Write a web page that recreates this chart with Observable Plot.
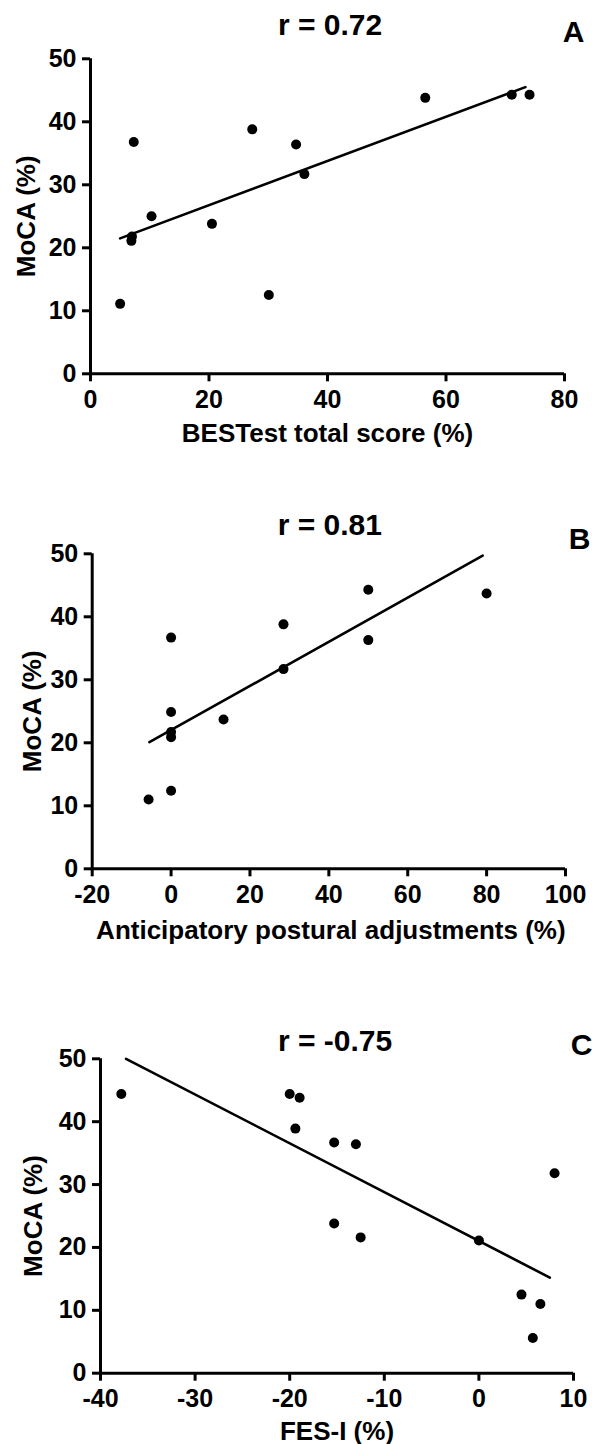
<!DOCTYPE html>
<html>
<head>
<meta charset="utf-8">
<script src="https://cdn.jsdelivr.net/npm/d3@7"></script>
<script src="https://cdn.jsdelivr.net/npm/@observablehq/plot@0.6"></script>
<style>
  html, body { margin: 0; padding: 0; background: #fff; }
  #root { position: relative; width: 592px; height: 1444px; background: #fff; }
  #root svg { position: absolute; left: 0; display: block; }
</style>
</head>
<body>
<div id="root"></div>
<script>
// ---- Data ----
const yTicks = [0, 10, 20, 30, 40, 50];

// Panel A
const titleA = "r = 0.72";
const letterA = "A";
const xLabelA = "BESTest total score (%)";
const xTicksA = [0, 20, 40, 60, 80];
const bestX = [5.0, 6.9, 7.0, 7.3, 10.3, 20.5, 27.3, 30.1, 34.7, 36.1, 56.5, 71.1, 74.1];
const mocaA = [11.1, 21.1, 21.8, 36.8, 25.0, 23.8, 38.8, 12.5, 36.4, 31.7, 43.8, 44.3, 44.3];
const fitAx = [5.0, 73.4];
const fitAy = [21.5, 45.5];

// Panel B
const titleB = "r = 0.81";
const letterB = "B";
const xLabelB = "Anticipatory postural adjustments (%)";
const xTicksB = [-20, 0, 20, 40, 60, 80, 100];
const apaX = [-5.7, 0, 0, 0, 0, 0, 13.3, 28.5, 28.5, 50, 50, 80];
const mocaB = [11.0, 12.4, 20.9, 21.7, 24.9, 36.7, 23.7, 31.7, 38.8, 44.3, 36.3, 43.7];
const fitBx = [-5.5, 79.0];
const fitBy = [20.1, 49.7];

// Panel C
const titleC = "r = -0.75";
const letterC = "C";
const xLabelC = "FES-I (%)";
const xTicksC = [-40, -30, -20, -10, 0, 10];
const fesX = [-37.8, -20.0, -18.95, -19.4, -15.3, -13.0, -15.3, -12.5, 0, 4.5, 6.5, 5.7, 8.0];
const mocaC = [44.4, 44.4, 43.8, 38.9, 36.7, 36.4, 23.8, 21.6, 21.1, 12.5, 11.0, 5.6, 31.8];
const fitCx = [-37.3, 7.5];
const fitCy = [50.0, 15.2];

const yLabel = "MoCA (%)";

// ---- Drawing ----
const FONT = "'Liberation Sans', Arial, Helvetica, sans-serif";
const fmt = d => String(d); // plain hyphen-minus like the original

function panel(cfg) {
  const pts = cfg.xs.map((x, i) => ({x, y: cfg.ys[i]}));
  const fit = cfg.fx.map((x, i) => ({x, y: cfg.fy[i]}));
  return Plot.plot({
    width: 592,
    height: cfg.height,
    marginTop: cfg.mt,
    marginBottom: cfg.mb,
    marginLeft: cfg.ml,
    marginRight: cfg.mr,
    style: {fontFamily: FONT, fontWeight: "bold", color: "black", background: "white", overflow: "visible"},
    x: {domain: [cfg.xTicks[0], cfg.xTicks[cfg.xTicks.length - 1]], ticks: cfg.xTicks},
    y: {domain: [0, 50], ticks: yTicks},
    marks: [
      Plot.axisX(cfg.xTicks, {tickSize: 8, tickPadding: 8, fontSize: 25, fontWeight: "bold", tickFormat: fmt, strokeWidth: 3, label: null, fill: "black", stroke: "black"}),
      Plot.axisY(yTicks, {tickSize: 8, tickPadding: 6, fontSize: 25, fontWeight: "bold", tickFormat: fmt, strokeWidth: 3, label: null, fill: "black", stroke: "black"}),
      Plot.ruleY([0], {stroke: "black", strokeWidth: 3}),
      Plot.ruleX([cfg.xTicks[0]], {stroke: "black", strokeWidth: 3}),
      Plot.line(fit, {x: "x", y: "y", stroke: "black", strokeWidth: 2.6}),
      Plot.dot(pts, {x: "x", y: "y", r: 5, fill: "black", stroke: "none"}),
      Plot.text([cfg.title], {frameAnchor: "top", dx: cfg.tdx, dy: cfg.tdy, fontSize: 30, lineAnchor: "middle", fill: "black"}),
      Plot.text([cfg.letter], {frameAnchor: "top-right", textAnchor: "middle", dx: cfg.ldx, dy: cfg.ldy, fontSize: 30, lineAnchor: "middle", fill: "black"}),
      Plot.text([cfg.xLabel], {frameAnchor: "bottom", dx: cfg.xdx, dy: cfg.xdy, fontSize: 26, lineAnchor: "middle", fill: "black"}),
      Plot.text([yLabel], {frameAnchor: "left", textAnchor: "middle", rotate: -90, dx: cfg.ydx, fontSize: 26, lineAnchor: "middle", fill: "black"})
    ]
  });
}

const root = document.getElementById("root");

const a = panel({
  height: 480, mt: 58.3, mb: 106.7, ml: 90, mr: 28,
  xTicks: xTicksA, xs: bestX, ys: mocaA, fx: fitAx, fy: fitAy,
  title: titleA, tdx: 2.5, tdy: -33.5,
  letter: letterA, ldx: 9, ldy: -26,
  xLabel: xLabelA, xdx: 0, xdy: 60,
  ydx: -64
});
a.style.top = "0px";
root.appendChild(a);

const b = panel({
  height: 480, mt: 73.3, mb: 91.7, ml: 91.7, mr: 27,
  xTicks: xTicksB, xs: apaX, ys: mocaB, fx: fitBx, fy: fitBy,
  title: titleB, tdx: 1, tdy: -28.5,
  letter: letterB, ldx: 14, ldy: -14,
  xLabel: xLabelB, xdx: 2, xdy: 62,
  ydx: -60
});
b.style.top = "480px";
root.appendChild(b);

const c = panel({
  height: 484, mt: 98.3, mb: 71.3, ml: 100, mr: 19,
  xTicks: xTicksC, xs: fesX, ys: mocaC, fx: fitCx, fy: fitCy,
  title: titleC, tdx: -2, tdy: -17,
  letter: letterC, ldx: 8, ldy: -13,
  xLabel: xLabelC, xdx: 0, xdy: 58,
  ydx: -67
});
c.style.top = "960px";
root.appendChild(c);
</script>
</body>
</html>
